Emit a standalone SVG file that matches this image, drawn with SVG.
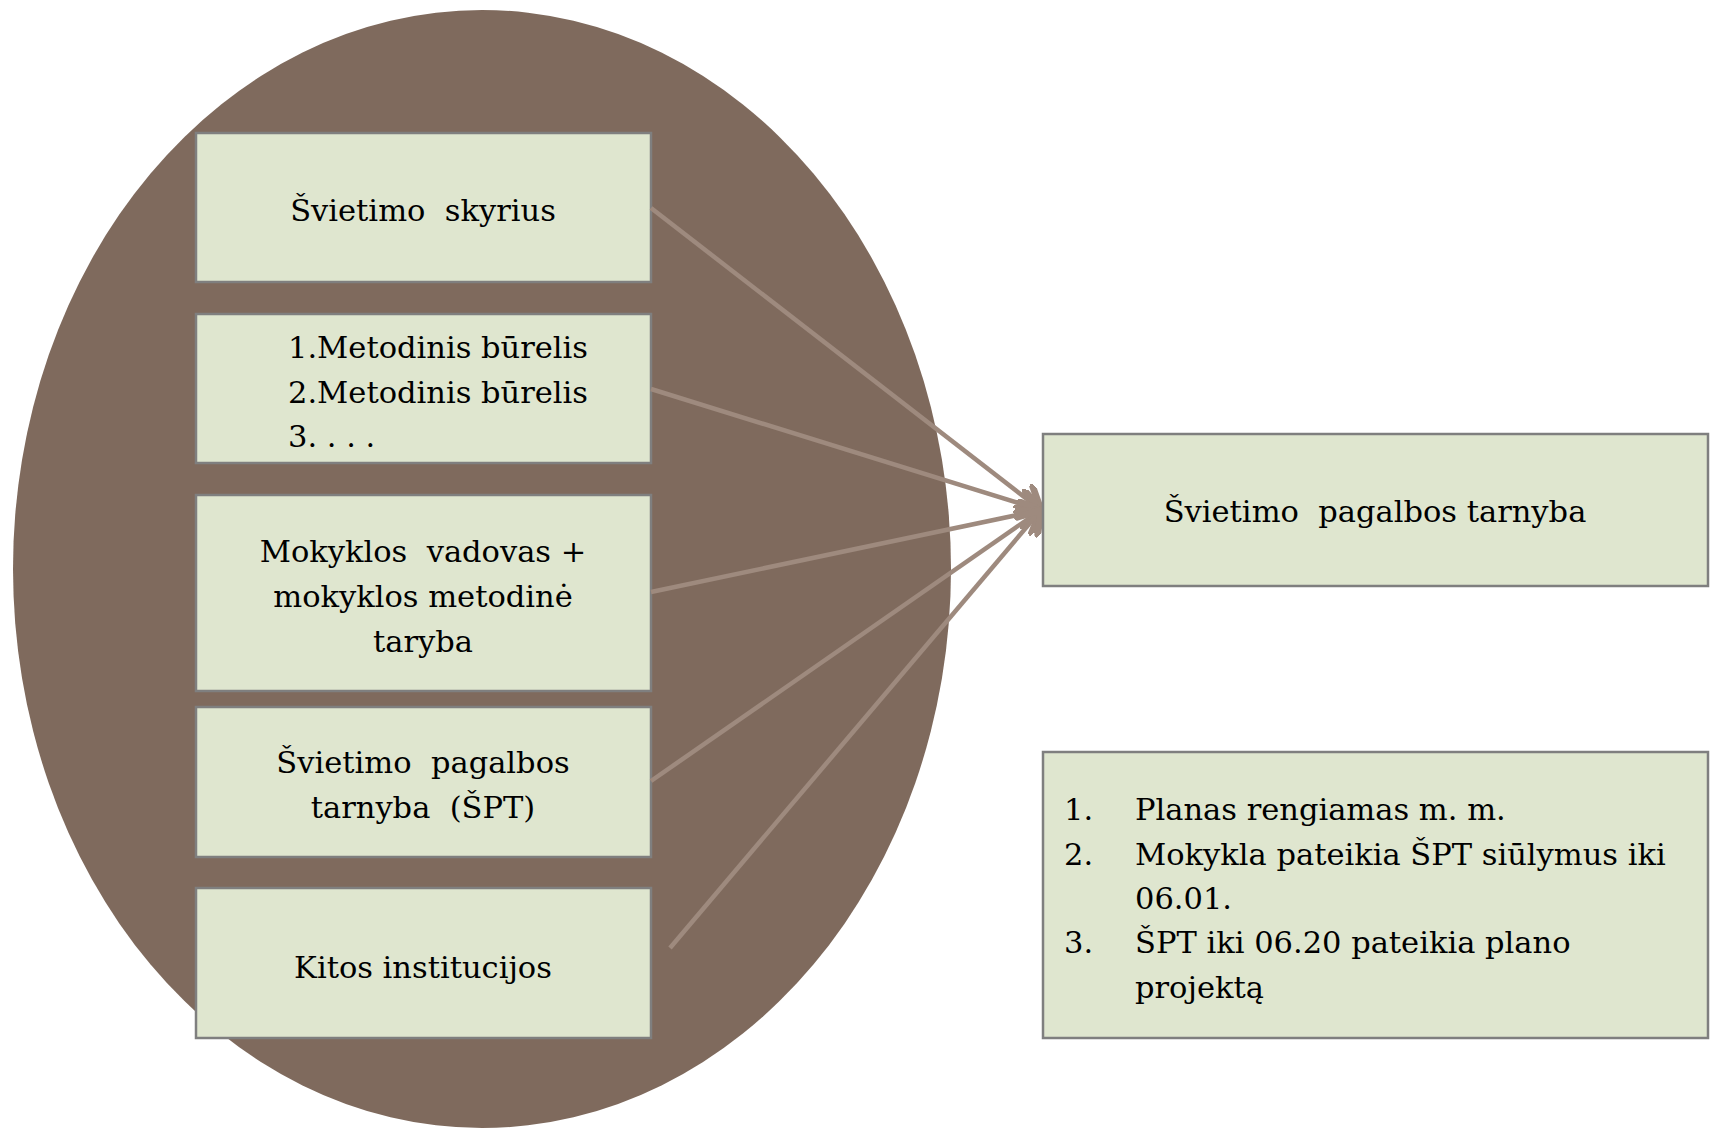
<svg xmlns="http://www.w3.org/2000/svg" width="1710" height="1128" viewBox="0 0 1710 1128" xml:space="preserve">
<defs>
<style>
.node rect{fill:#dfe6cf;stroke:#7f7f7f;stroke-width:2.5}
text{font-family:"DejaVu Serif","Liberation Serif",serif;font-size:30.5px;fill:#000;white-space:pre}
.c{text-anchor:middle}
.conn line{stroke:#9e8a7e;stroke-width:4.5;marker-end:url(#arr)}
</style>
<marker id="arr" markerUnits="userSpaceOnUse" markerWidth="30" markerHeight="30" refX="16" refY="10" orient="auto" viewBox="0 0 20 20">
<path d="M2,1 L16,10 L2,19" fill="none" stroke="#9e8a7e" stroke-width="4.5" stroke-linecap="round" stroke-linejoin="round"/>
</marker>
</defs>
<rect width="1710" height="1128" fill="#fff"/>
<ellipse id="bg" cx="482" cy="569" rx="469" ry="559" fill="#7f6a5d"/>
<g id="n1" class="node"><rect x="196" y="133" width="455" height="149"/><text class="c" x="423" y="221">Švietimo  skyrius</text></g>
<g id="n2" class="node"><rect x="196" y="314" width="455" height="149"/><text x="288" y="358">1.Metodinis būrelis</text><text x="288" y="403">2.Metodinis būrelis</text><text x="288" y="447">3. . . .</text></g>
<g id="n3" class="node"><rect x="196" y="495" width="455" height="196"/><text class="c" x="423" y="562">Mokyklos  vadovas +</text><text class="c" x="423" y="607">mokyklos metodinė</text><text class="c" x="423" y="652">taryba</text></g>
<g id="n4" class="node"><rect x="196" y="707" width="455" height="150"/><text class="c" x="423" y="773">Švietimo  pagalbos</text><text class="c" x="423" y="818">tarnyba  (ŠPT)</text></g>
<g id="n5" class="node"><rect x="196" y="888" width="455" height="150"/><text class="c" x="423" y="978">Kitos institucijos</text></g>
<g id="conn" class="conn">
<line x1="651" y1="208" x2="1041" y2="510"/>
<line x1="651" y1="389" x2="1041" y2="510"/>
<line x1="651" y1="592" x2="1041" y2="510"/>
<line x1="651" y1="781" x2="1041" y2="510"/>
<line x1="670" y1="948" x2="1041" y2="510"/>
</g>
<g id="target" class="node"><rect x="1043" y="434" width="665" height="152"/><text class="c" x="1375" y="522">Švietimo  pagalbos tarnyba</text></g>
<g id="notes" class="node"><rect x="1043" y="752" width="665" height="286"/>
<text x="1064" y="820">1.</text><text x="1135" y="820">Planas rengiamas m. m.</text>
<text x="1064" y="865">2.</text><text x="1135" y="865">Mokykla pateikia ŠPT siūlymus iki</text>
<text x="1135" y="909">06.01.</text>
<text x="1064" y="953">3.</text><text x="1135" y="953">ŠPT iki 06.20 pateikia plano</text>
<text x="1135" y="998">projektą</text>
</g>
</svg>
